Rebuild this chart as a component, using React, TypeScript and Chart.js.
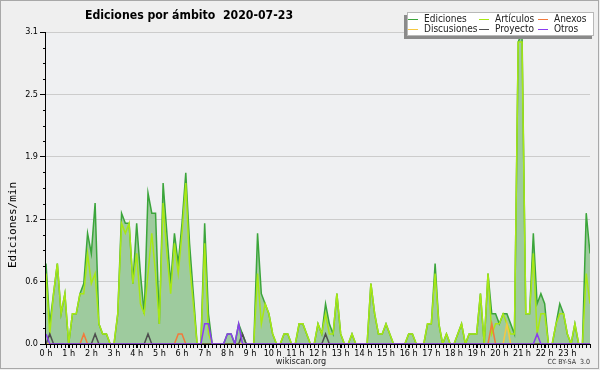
import { useEffect, useRef } from 'react';
import { Chart, registerables } from 'chart.js';

Chart.register(...registerables);

const FONT = '"DejaVu Sans Condensed", "DejaVu Sans", sans-serif';
const MONO = '"DejaVu Sans Mono", monospace';

const hourLabels = [
  '0 h', '1 h', '2 h', '3 h', '4 h', '5 h', '6 h', '7 h', '8 h', '9 h', '10 h', '11 h',
  '12 h', '13 h', '14 h', '15 h', '16 h', '17 h', '18 h', '19 h', '20 h', '21 h', '22 h', '23 h',
];
const yTickValues = [0, 0.62, 1.24, 1.86, 2.48, 3.1];
const yTickLabels = ['0.0', '0.6', '1.2', '1.9', '2.5', '3.1'];

// 10-minute slots, 00:00 .. 24:00 (edits per minute)
const ediciones = [
  0.8, 0.2, 0.5, 0.8, 0.3, 0.5, 0.0, 0.3, 0.3, 0.5,
  0.6, 1.1, 0.9, 1.4, 0.2, 0.1, 0.1, 0.0, 0.0, 0.3,
  1.3, 1.2, 1.2, 0.6, 1.2, 0.7, 0.3, 1.5, 1.3, 1.3,
  0.2, 1.6, 1.1, 0.6, 1.1, 0.8, 1.2, 1.7, 1.0, 0.5,
  0.0, 0.0, 1.2, 0.3, 0.0, 0.0, 0.0, 0.0, 0.1, 0.1,
  0.0, 0.2, 0.1, 0.0, 0.0, 0.0, 1.1, 0.5, 0.4, 0.3,
  0.1, 0.0, 0.0, 0.1, 0.1, 0.0, 0.0, 0.2, 0.2, 0.1,
  0.0, 0.0, 0.2, 0.1, 0.4, 0.2, 0.1, 0.5, 0.1, 0.0,
  0.0, 0.1, 0.0, 0.0, 0.0, 0.0, 0.6, 0.3, 0.1, 0.1,
  0.2, 0.1, 0.0, 0.0, 0.0, 0.0, 0.1, 0.1, 0.0, 0.0,
  0.0, 0.2, 0.2, 0.8, 0.2, 0.0, 0.1, 0.0, 0.0, 0.1,
  0.2, 0.0, 0.1, 0.1, 0.1, 0.5, 0.0, 0.7, 0.3, 0.3,
  0.2, 0.3, 0.3, 0.2, 0.1, 3.0, 3.1, 0.3, 0.3, 1.1,
  0.4, 0.5, 0.4, 0.0, 0.0, 0.2, 0.4, 0.3, 0.1, 0.0,
  0.2, 0.0, 0.0, 1.3, 0.9,
];
const articulos = [
  0.7, 0.1, 0.5, 0.8, 0.3, 0.5, 0.0, 0.3, 0.3, 0.5,
  0.5, 0.9, 0.6, 0.7, 0.2, 0.1, 0.1, 0.0, 0.0, 0.3,
  1.2, 1.1, 1.2, 0.6, 0.9, 0.4, 0.3, 0.7, 1.1, 0.7,
  0.2, 1.4, 0.9, 0.5, 1.0, 0.7, 1.1, 1.6, 0.8, 0.4,
  0.0, 0.0, 1.0, 0.1, 0.0, 0.0, 0.0, 0.0, 0.0, 0.0,
  0.0, 0.0, 0.0, 0.0, 0.0, 0.0, 0.7, 0.2, 0.4, 0.3,
  0.1, 0.0, 0.0, 0.1, 0.1, 0.0, 0.0, 0.2, 0.2, 0.1,
  0.0, 0.0, 0.2, 0.1, 0.3, 0.1, 0.1, 0.5, 0.1, 0.0,
  0.0, 0.1, 0.0, 0.0, 0.0, 0.0, 0.6, 0.3, 0.1, 0.1,
  0.2, 0.1, 0.0, 0.0, 0.0, 0.0, 0.1, 0.1, 0.0, 0.0,
  0.0, 0.2, 0.2, 0.7, 0.2, 0.0, 0.1, 0.0, 0.0, 0.1,
  0.2, 0.0, 0.1, 0.1, 0.1, 0.5, 0.0, 0.7, 0.1, 0.2,
  0.2, 0.3, 0.2, 0.1, 0.1, 3.0, 3.0, 0.3, 0.3, 0.9,
  0.1, 0.3, 0.3, 0.0, 0.0, 0.2, 0.3, 0.3, 0.1, 0.0,
  0.2, 0.0, 0.0, 0.7, 0.4,
];
const anexos = [
  0, 0, 0, 0, 0, 0, 0, 0, 0, 0,
  0.1, 0, 0, 0, 0, 0, 0, 0, 0, 0,
  0, 0, 0, 0, 0, 0, 0, 0, 0, 0,
  0, 0, 0, 0, 0, 0.1, 0.1, 0, 0, 0,
  0, 0, 0, 0, 0, 0, 0, 0, 0, 0,
  0, 0, 0, 0, 0, 0, 0, 0, 0, 0,
  0, 0, 0, 0, 0, 0, 0, 0, 0, 0,
  0, 0, 0, 0, 0, 0, 0, 0, 0, 0,
  0, 0, 0, 0, 0, 0, 0, 0, 0, 0,
  0, 0, 0, 0, 0, 0, 0, 0, 0, 0,
  0, 0, 0, 0, 0, 0, 0, 0, 0, 0,
  0, 0, 0, 0, 0, 0, 0, 0, 0.2, 0,
  0, 0, 0, 0, 0, 0, 0, 0, 0, 0,
  0, 0, 0, 0, 0, 0, 0, 0, 0, 0,
  0, 0, 0, 0, 0,
];
const discusiones = [
  0, 0, 0, 0, 0, 0, 0, 0, 0, 0,
  0, 0, 0, 0, 0, 0, 0, 0, 0, 0,
  0, 0, 0, 0, 0, 0, 0, 0, 0, 0,
  0, 0, 0, 0, 0, 0, 0, 0, 0, 0,
  0, 0, 0, 0, 0, 0, 0, 0, 0, 0,
  0, 0, 0, 0, 0, 0, 0, 0, 0, 0,
  0, 0, 0, 0, 0, 0, 0, 0, 0, 0,
  0, 0, 0, 0, 0, 0, 0, 0, 0, 0,
  0, 0, 0, 0, 0, 0, 0, 0, 0, 0,
  0, 0, 0, 0, 0, 0, 0, 0, 0, 0,
  0, 0, 0, 0, 0, 0, 0, 0, 0, 0,
  0, 0, 0, 0, 0, 0, 0, 0, 0, 0,
  0, 0, 0.2, 0, 0, 0, 0, 0, 0, 0,
  0, 0, 0, 0, 0, 0, 0, 0, 0, 0,
  0, 0, 0, 0, 0,
];
const proyecto = [
  0, 0.1, 0, 0, 0, 0, 0, 0, 0, 0,
  0, 0, 0, 0.1, 0, 0, 0, 0, 0, 0,
  0, 0, 0, 0, 0, 0, 0, 0.1, 0, 0,
  0, 0, 0, 0, 0, 0, 0, 0, 0, 0,
  0, 0, 0, 0, 0, 0, 0, 0, 0, 0,
  0, 0, 0.1, 0, 0, 0, 0, 0, 0, 0,
  0, 0, 0, 0, 0, 0, 0, 0, 0, 0,
  0, 0, 0, 0, 0.1, 0, 0, 0, 0, 0,
  0, 0, 0, 0, 0, 0, 0, 0, 0, 0,
  0, 0, 0, 0, 0, 0, 0, 0, 0, 0,
  0, 0, 0, 0, 0, 0, 0, 0, 0, 0,
  0, 0, 0, 0, 0, 0, 0, 0, 0, 0,
  0, 0, 0, 0, 0, 0, 0, 0, 0, 0,
  0, 0, 0, 0, 0, 0, 0, 0, 0, 0,
  0, 0, 0, 0, 0,
];
const otros = [
  0.1, 0, 0, 0, 0, 0, 0, 0, 0, 0,
  0, 0, 0, 0, 0, 0, 0, 0, 0, 0,
  0, 0, 0, 0, 0, 0, 0, 0, 0, 0,
  0, 0, 0, 0, 0, 0, 0, 0, 0, 0,
  0, 0, 0.2, 0.2, 0, 0, 0, 0, 0.1, 0.1,
  0, 0.2, 0, 0, 0, 0, 0, 0, 0, 0,
  0, 0, 0, 0, 0, 0, 0, 0, 0, 0,
  0, 0, 0, 0, 0, 0, 0, 0, 0, 0,
  0, 0, 0, 0, 0, 0, 0, 0, 0, 0,
  0, 0, 0, 0, 0, 0, 0, 0, 0, 0,
  0, 0, 0, 0, 0, 0, 0, 0, 0, 0,
  0, 0, 0, 0, 0, 0, 0, 0, 0, 0,
  0, 0, 0, 0, 0, 0, 0, 0, 0, 0,
  0.1, 0, 0, 0, 0, 0, 0, 0, 0, 0,
  0, 0, 0, 0, 0,
];

const COLORS = {
  ediciones: '#3ba53b',
  fill: '#9ecb9e',
  articulos: '#a8e814',
  anexos: '#f27a3c',
  discusiones: '#f5c842',
  proyecto: '#4e4e4e',
  otros: '#8a3cf0',
};

const legendItems = [
  { label: 'Ediciones', color: COLORS.ediciones, col: 0, row: 0 },
  { label: 'Discusiones', color: COLORS.discusiones, col: 0, row: 1 },
  { label: 'Artículos', color: COLORS.articulos, col: 1, row: 0 },
  { label: 'Proyecto', color: COLORS.proyecto, col: 1, row: 1 },
  { label: 'Anexos', color: COLORS.anexos, col: 2, row: 0 },
  { label: 'Otros', color: COLORS.otros, col: 2, row: 1 },
];

const toPts = (arr: number[]) => arr.map((v, i) => ({ x: i, y: v }));

const decoPlugin = {
  id: 'deco',
  beforeDraw(chart: any) {
    const { ctx, chartArea: a } = chart;
    ctx.save();
    ctx.fillStyle = '#efefef';
    ctx.fillRect(0, 0, chart.width, chart.height);
    ctx.fillStyle = '#eff0f2';
    ctx.fillRect(a.left, a.top, a.right - a.left, a.bottom - a.top);
    ctx.restore();
  },
  afterDraw(chart: any) {
    const { ctx, chartArea: a, scales } = chart;
    const xs = scales.x;
    const ys = scales.y;
    ctx.save();
    // axes
    ctx.strokeStyle = '#000';
    ctx.lineWidth = 1;
    ctx.beginPath();
    ctx.moveTo(a.left - 0.5, a.top);
    ctx.lineTo(a.left - 0.5, a.bottom + 0.5);
    ctx.lineTo(a.right, a.bottom + 0.5);
    ctx.stroke();
    // minor ticks x (each 10-minute slot)
    ctx.beginPath();
    ediciones.forEach((_, i) => {
      const px = Math.round(xs.getPixelForValue(i)) + 0.5;
      ctx.moveTo(px, a.bottom);
      ctx.lineTo(px, a.bottom + 4);
    });
    ctx.stroke();
    // minor ticks y
    ctx.beginPath();
    for (let k = 0; k < yTickValues.length - 1; k++) {
      for (let m = 1; m < 4; m++) {
        const v = yTickValues[k] + ((yTickValues[k + 1] - yTickValues[k]) * m) / 4;
        const py = Math.round(ys.getPixelForValue(v)) + 0.5;
        ctx.moveTo(a.left - 3, py);
        ctx.lineTo(a.left, py);
      }
    }
    ctx.stroke();

    // title
    ctx.fillStyle = '#000';
    ctx.font = `bold 12.2px ${FONT}`;
    ctx.textAlign = 'left';
    ctx.textBaseline = 'alphabetic';
    ctx.fillText('Ediciones por ámbito  2020-07-23', 85, 18.5);

    // y axis title
    ctx.save();
    ctx.translate(13, 225);
    ctx.rotate(-Math.PI / 2);
    ctx.font = `11px ${MONO}`;
    ctx.textAlign = 'center';
    ctx.textBaseline = 'middle';
    ctx.fillText('Ediciones/min', 0, 0);
    ctx.restore();

    // footer
    ctx.font = `9px ${FONT}`;
    ctx.textAlign = 'center';
    ctx.textBaseline = 'middle';
    ctx.fillStyle = '#222';
    ctx.fillText('wikiscan.org', 301, 361.5);
    ctx.font = `7px ${FONT}`;
    ctx.textAlign = 'right';
    ctx.fillStyle = '#333';
    ctx.fillText('CC BY-SA  3.0', 590, 362.5);

    // legend
    ctx.fillStyle = '#8a8a8a';
    ctx.fillRect(404, 15, 188, 24);
    ctx.fillStyle = '#ffffff';
    ctx.fillRect(407, 12, 187, 24);
    ctx.strokeStyle = '#b8b8b8';
    ctx.strokeRect(407.5, 12.5, 186, 23);
    const colX = [408, 479, 538];
    const rowY = [19, 29];
    ctx.font = `10px ${FONT}`;
    ctx.textAlign = 'left';
    ctx.textBaseline = 'middle';
    legendItems.forEach((it) => {
      const x = colX[it.col];
      const y = rowY[it.row];
      ctx.strokeStyle = it.color;
      ctx.lineWidth = 1;
      ctx.beginPath();
      ctx.moveTo(x, y + 0.5);
      ctx.lineTo(x + 10, y + 0.5);
      ctx.stroke();
      ctx.fillStyle = '#222';
      ctx.fillText(it.label, x + 16, y);
    });

    // outer border
    ctx.strokeStyle = '#a8a8a8';
    ctx.lineWidth = 1;
    ctx.strokeRect(0.5, 0.5, 598, 368);
    ctx.restore();
  },
};

export default function App() {
  const ref = useRef<HTMLCanvasElement>(null);
  useEffect(() => {
    document.body.style.margin = '0';
    const line = (label: string, data: number[], color: string, order: number, extra: any = {}) => ({
      label,
      data: toPts(data),
      borderColor: color,
      borderWidth: 1.5,
      pointRadius: 0,
      tension: 0,
      fill: false,
      order,
      ...extra,
    });
    const chart = new Chart(ref.current!, {
      type: 'line',
      data: {
        datasets: [
          line('Ediciones', ediciones, COLORS.ediciones, 6, { fill: 'origin', backgroundColor: COLORS.fill }),
          line('Artículos', articulos, COLORS.articulos, 5),
          line('Anexos', anexos, COLORS.anexos, 4),
          line('Discusiones', discusiones, COLORS.discusiones, 3),
          line('Proyecto', proyecto, COLORS.proyecto, 2),
          line('Otros', otros, COLORS.otros, 1),
        ],
      },
      options: {
        animation: false,
        responsive: false,
        maintainAspectRatio: false,
        layout: { padding: { left: 0, right: 10, top: 32, bottom: 0 } },
        plugins: { legend: { display: false }, title: { display: false }, tooltip: { enabled: false } },
        scales: {
          x: {
            type: 'linear',
            min: 0,
            max: ediciones.length - 1,
            afterBuildTicks: (s: any) => {
              s.ticks = hourLabels.map((_, h) => ({ value: h * 6 }));
            },
            afterFit: (s: any) => {
              s.height = 26;
            },
            ticks: {
              autoSkip: false,
              maxRotation: 0,
              padding: 0,
              color: '#000',
              font: { family: FONT, size: 9 },
              callback: (v: any) => hourLabels[Math.round(Number(v) / 6)],
            },
            grid: { drawOnChartArea: false, drawTicks: true, tickLength: 4, tickColor: '#000' },
            border: { display: false },
          },
          y: {
            type: 'linear',
            min: 0,
            max: 3.1,
            afterBuildTicks: (s: any) => {
              s.ticks = yTickValues.map((v) => ({ value: v }));
            },
            afterFit: (s: any) => {
              s.width = 46;
            },
            ticks: {
              padding: 2,
              color: '#000',
              font: { family: FONT, size: 9 },
              callback: (_v: any, i: number) => yTickLabels[i],
            },
            grid: { color: '#cccccc', tickColor: '#000', tickLength: 6, drawTicks: true },
            border: { display: false },
          },
        },
      },
      plugins: [decoPlugin],
    });
    return () => chart.destroy();
  }, []);
  return <canvas ref={ref} width={600} height={370} style={{ display: 'block' }} />;
}
